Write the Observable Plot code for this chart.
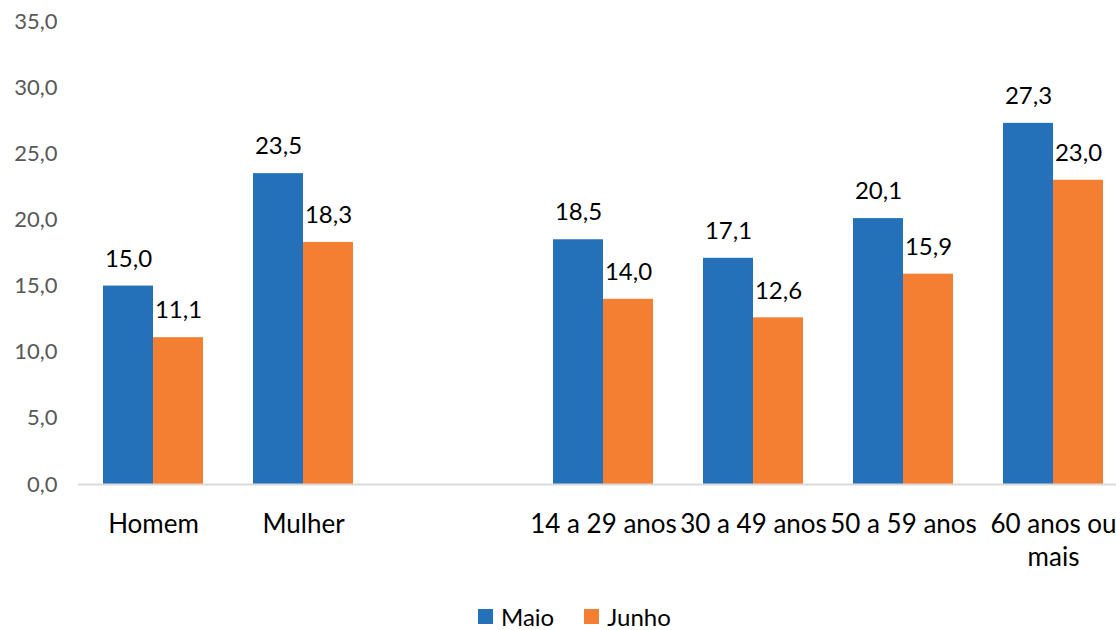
<!DOCTYPE html>
<html>
<head>
<meta charset="utf-8">
<script src="https://cdn.jsdelivr.net/npm/d3@7"></script>
<script src="https://cdn.jsdelivr.net/npm/@observablehq/plot@0.6"></script>
<style>
  html, body { margin: 0; padding: 0; background: #fff; }
  #chart { width: 1116px; }
  .legend { display: flex; align-items: center; height: 27px; padding-top: 8px; padding-left: 478px; font-family: Lato, sans-serif; font-size: 24px; color: #000; }
  .legend .item { display: flex; align-items: center; margin-right: 30px; }
  .legend .sw { width: 15px; height: 15px; margin-right: 8px; }
</style>
</head>
<body>
<div id="chart"></div>
<script>
const categories = ["Homem", "Mulher", "", "14 a 29 anos", "30 a 49 anos", "50 a 59 anos", "60 anos ou\nmais"];
const series = ["Maio", "Junho"];
const maio  = [15.0, 23.5, null, 18.5, 17.1, 20.1, 27.3];
const junho = [11.1, 18.3, null, 14.0, 12.6, 15.9, 23.0];
const yTicks = [0, 5, 10, 15, 20, 25, 30, 35];
const colors = ["#2471BA", "#F47F32"];

const data = [];
categories.forEach((c, i) => {
  data.push({cat: c, serie: "Maio", value: maio[i]});
  data.push({cat: c, serie: "Junho", value: junho[i]});
});
const fmt = v => v == null ? null : v.toFixed(1).replace(".", ",");

const plot = Plot.plot({
  width: 1116,
  height: 595,
  marginLeft: 78,
  marginRight: -12,
  marginTop: 21,
  marginBottom: 111,
  style: {fontFamily: "Lato, sans-serif", background: "#fff", overflow: "hidden"},
  fx: {domain: categories, padding: 0, label: null, axis: null},
  x: {domain: series, paddingInner: 0, paddingOuter: 0.5, axis: null},
  y: {domain: [0, 35], ticks: yTicks, label: null, axis: null},
  color: {domain: series, range: colors},
  marks: [
    Plot.axisY({ticks: yTicks, tickFormat: fmt, tickSize: 0, tickPadding: 21, fontSize: 22, color: "#595959", label: null}),
    Plot.axisFx({domain: categories, anchor: "bottom", tickSize: 0, tickPadding: 24, fontSize: 26, label: null, lineHeight: 1.3, fill: "#000"}),
    Plot.barY(data, {fx: "cat", x: "serie", y: "value", fill: "serie", inset: 0, filter: d => d.value != null}),
    Plot.ruleY([0], {stroke: "#d9d9d9", strokeWidth: 2}),
    Plot.text(data, {fx: "cat", x: "serie", y: "value", text: d => fmt(d.value), dy: -27, fontSize: 24, fill: "#000"})
  ]
});
document.getElementById("chart").appendChild(plot);

const legend = document.createElement("div");
legend.className = "legend";
series.forEach((s, i) => {
  const item = document.createElement("div");
  item.className = "item";
  const sw = document.createElement("div");
  sw.className = "sw";
  sw.style.background = colors[i];
  const t = document.createElement("span");
  t.textContent = s;
  item.appendChild(sw);
  item.appendChild(t);
  legend.appendChild(item);
});
document.getElementById("chart").appendChild(legend);
</script>
</body>
</html>
